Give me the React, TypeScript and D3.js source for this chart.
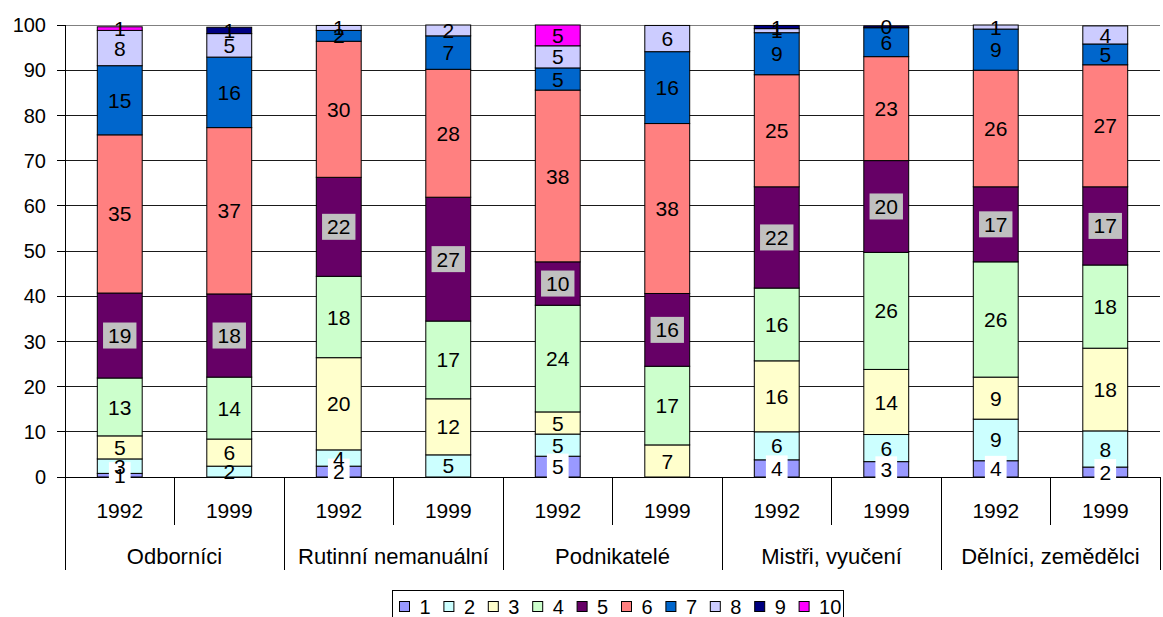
import React from 'react'
import * as d3 from 'd3'

const groups = ['Odborníci', 'Rutinní nemanuální', 'Podnikatelé', 'Mistři, vyučení', 'Dělníci, zemědělci']
const years = ['1992', '1999']

// podíly (%) pro každý sloupec, pořadí: skupina x rok
const s1 = [0.8, 0, 2.4, 0, 4.6, 0, 3.8, 3.4, 3.6, 2.2]
const s2 = [3.2, 2.4, 3.6, 4.9, 4.9, 0, 6.2, 6.0, 9.2, 8.0]
const s3 = [5.1, 6.0, 20.4, 12.4, 4.9, 7.1, 15.7, 14.4, 9.3, 18.3]
const s4 = [12.8, 13.7, 18.0, 17.2, 23.6, 17.4, 16.1, 25.9, 25.5, 18.4]
const s5 = [18.8, 18.4, 21.9, 27.4, 9.6, 16.1, 22.4, 20.3, 16.6, 17.3]
const s6 = [35.0, 36.8, 30.1, 28.3, 38.0, 37.6, 24.8, 23.0, 25.8, 27.0]
const s7 = [15.3, 15.6, 2.4, 7.4, 4.9, 15.9, 9.3, 6.4, 9.1, 4.6]
const s8 = [7.8, 5.2, 1.1, 2.4, 4.9, 5.8, 0.9, 0, 0.9, 4.0]
const s9 = [0, 1.4, 0, 0, 0, 0, 0.7, 0.4, 0, 0]
const s10 = [0.8, 0, 0, 0, 4.6, 0, 0, 0, 0, 0]

const seriesNames = ['1', '2', '3', '4', '5', '6', '7', '8', '9', '10']
const seriesColors = ['#9999FF', '#CCFFFF', '#FFFFCC', '#CCFFCC', '#660066', '#FF8080', '#0066CC', '#CCCCFF', '#000080', '#FF00FF']
const yTicks = [0, 10, 20, 30, 40, 50, 60, 70, 80, 90, 100]

const allSeries = [s1, s2, s3, s4, s5, s6, s7, s8, s9, s10]

const W = 1163
const H = 617
const FONT = '"Liberation Sans", Arial, sans-serif'

export default function App() {
  const left = 65
  const right = 1160
  const bottom = 477
  const top = 25

  const rows = groups.flatMap((g, gi) =>
    years.map((yr, yi) => {
      const idx = gi * 2 + yi
      const row: any = { id: idx, group: g, year: yr }
      seriesNames.forEach((k, si) => { row[k] = allSeries[si][idx] })
      return row
    })
  )

  const x = d3.scaleBand<number>()
    .domain(rows.map(r => r.id))
    .range([left, right])
    .paddingInner(0.59)
    .paddingOuter(0.295)

  const y = d3.scaleLinear().domain([0, 100]).range([bottom, top])

  const stacked = d3.stack<any>().keys(seriesNames)(rows)

  const step = x.step()

  const labelBox = (si: number) => {
    if (si === 0) return '#FFFFFF'
    if (si === 4) return '#C0C0C0'
    return null
  }

  return (
    <div style={{ position: 'fixed', left: 0, top: 0, width: W, height: H, background: '#fff' }}>
      <svg width={W} height={H} style={{ display: 'block', fontFamily: FONT }}>
        {/* mřížka */}
        {yTicks.map(t => (
          <line key={'g' + t} x1={left} x2={right} y1={y(t)} y2={y(t)}
            stroke={t === 100 ? '#808080' : '#1a1a1a'} strokeWidth={1} shapeRendering="crispEdges" />
        ))}
        {yTicks.map(t => (
          <g key={'t' + t}>
            <line x1={left - 8} x2={left} y1={y(t)} y2={y(t)} stroke="#000" shapeRendering="crispEdges" />
            <text x={46} y={y(t)} dy="0.36em" textAnchor="end" fontSize={20}>{t}</text>
          </g>
        ))}

        {/* sloupce */}
        {stacked.map((layer, si) => (
          <g key={'s' + si}>
            {layer.map((d, i) => {
              const h = y(d[0]) - y(d[1])
              if (h <= 0) return null
              return (
                <rect key={i} x={x(i)} y={y(d[1])} width={x.bandwidth()} height={h}
                  fill={seriesColors[si]} stroke="#000" strokeWidth={1} />
              )
            })}
          </g>
        ))}

        {/* osy */}
        <line x1={left} x2={left} y1={top} y2={570} stroke="#000" shapeRendering="crispEdges" />
        <line x1={left} x2={right} y1={bottom} y2={bottom} stroke="#000" shapeRendering="crispEdges" />
        {rows.map((r, i) => {
          const xs = left + step * (i + 1)
          const isGroup = i % 2 === 1
          return (
            <line key={'sep' + i} x1={xs} x2={xs} y1={bottom} y2={isGroup ? 570 : 525}
              stroke="#000" shapeRendering="crispEdges" />
          )
        })}
        {rows.map((r, i) => (
          <text key={'yr' + i} x={x(i)! + x.bandwidth() / 2} y={518} textAnchor="middle" fontSize={21}>{r.year}</text>
        ))}
        {groups.map((g, gi) => (
          <text key={'gr' + gi} x={left + step * (gi * 2 + 1)} y={564} textAnchor="middle" fontSize={22}>{g}</text>
        ))}

        {/* popisky hodnot */}
        {stacked.map((layer, si) => (
          <g key={'l' + si}>
            {layer.map((d, i) => {
              const v = d[1] - d[0]
              if (v <= 0) return null
              const txt = String(Math.round(v))
              const cx = x(i)! + x.bandwidth() / 2
              const cy = y((d[0] + d[1]) / 2)
              const box = labelBox(si)
              const bw = txt.length * 11.7 + 10
              return (
                <g key={i}>
                  {box && <rect x={cx - bw / 2} y={cy - 13} width={bw} height={26} fill={box} />}
                  <text x={cx} y={cy} dy="0.36em" textAnchor="middle" fontSize={21} fill="#000">{txt}</text>
                </g>
              )
            })}
          </g>
        ))}

        {/* legenda */}
        <rect x={392.5} y={590.5} width={451} height={40} fill="#fff" stroke="#000" strokeWidth={1} />
        {seriesNames.map((n, i) => {
          const lx = 399.5 + i * 44.4
          return (
            <g key={'lg' + i}>
              <rect x={lx} y={601.5} width={10} height={10} fill={seriesColors[i]} stroke="#000" strokeWidth={1} />
              <text x={lx + 20} y={614} fontSize={20}>{n}</text>
            </g>
          )
        })}
      </svg>
    </div>
  )
}
